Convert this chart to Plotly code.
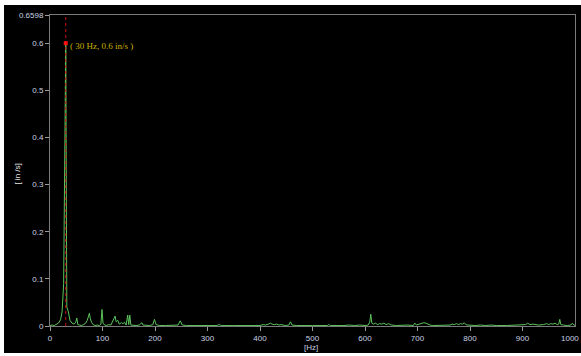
import plotly.graph_objects as go

# Spectrum samples (frequency in Hz, velocity amplitude in in/s)
freq_hz = [
    0, 4, 8, 12, 16, 20, 23, 26, 28, 30, 32, 35, 38, 42, 46, 49, 51, 53, 56, 60,
    64, 68, 71, 73, 75, 77, 79, 82, 86, 90, 94, 97, 99, 101, 104, 108, 112, 116, 119, 121,
    124, 126, 129, 132, 136, 139, 142, 145, 148, 150, 152, 154, 158, 164, 170, 173, 175, 177, 182, 190,
    196, 199, 202, 208, 220, 235, 244, 248, 252, 260, 280, 300, 318, 322, 326, 350, 380, 400, 406, 410,
    416, 420, 423, 427, 432, 436, 440, 448, 455, 458, 461, 470, 500, 520, 528, 531, 534, 560, 570, 580,
    590, 600, 606, 609, 611, 613, 616, 620, 624, 628, 632, 636, 640, 645, 650, 660, 680, 692, 695, 698,
    704, 708, 712, 716, 720, 724, 730, 750, 762, 766, 770, 774, 778, 782, 786, 789, 792, 796, 810, 820,
    830, 840, 850, 870, 884, 890, 896, 902, 906, 910, 914, 920, 930, 940, 946, 950, 954, 958, 962, 966,
    969, 971, 973, 978, 985, 992, 995, 998, 1000,
]
velocity = [
    0.001, 0.002, 0.001, 0.003, 0.006, 0.013, 0.030, 0.090, 0.360, 0.600, 0.040, 0.030, 0.012, 0.006, 0.004, 0.008, 0.017, 0.003, 0.002, 0.001,
    0.003, 0.006, 0.012, 0.022, 0.027, 0.015, 0.008, 0.003, 0.001, 0.002, 0.001, 0.004, 0.035, 0.006, 0.002, 0.001, 0.003, 0.002, 0.008, 0.014,
    0.021, 0.009, 0.012, 0.004, 0.007, 0.005, 0.008, 0.002, 0.023, 0.003, 0.023, 0.002, 0.001, 0.001, 0.002, 0.004, 0.007, 0.002, 0.001, 0.001,
    0.003, 0.014, 0.003, 0.001, 0.001, 0.002, 0.002, 0.011, 0.002, 0.001, 0.001, 0.001, 0.001, 0.003, 0.001, 0.001, 0.001, 0.001, 0.003, 0.002,
    0.004, 0.006, 0.004, 0.003, 0.004, 0.002, 0.003, 0.001, 0.002, 0.009, 0.002, 0.001, 0.001, 0.001, 0.001, 0.003, 0.001, 0.001, 0.002, 0.001,
    0.002, 0.001, 0.002, 0.008, 0.025, 0.006, 0.004, 0.006, 0.003, 0.005, 0.004, 0.006, 0.003, 0.005, 0.002, 0.001, 0.002, 0.001, 0.006, 0.002,
    0.004, 0.005, 0.007, 0.006, 0.004, 0.002, 0.001, 0.001, 0.002, 0.004, 0.003, 0.005, 0.003, 0.005, 0.004, 0.007, 0.003, 0.002, 0.001, 0.002,
    0.001, 0.002, 0.001, 0.001, 0.002, 0.003, 0.002, 0.004, 0.003, 0.006, 0.003, 0.004, 0.002, 0.003, 0.005, 0.003, 0.005, 0.004, 0.006, 0.003,
    0.004, 0.014, 0.003, 0.002, 0.001, 0.002, 0.006, 0.002, 0.001,
]

# Cursor reading
cursor_hz = 30
cursor_val = 0.6
y_top = 0.6598

x_ticks = [0, 100, 200, 300, 400, 500, 600, 700, 800, 900]
x_last_tick = 1000
y_ticks = [0, 0.1, 0.2, 0.3, 0.4, 0.5, 0.6, 0.6598]
y_tick_text = ["0", "0.1", "0.2", "0.3", "0.4", "0.5", "0.6", "0.6598"]

tick_font = dict(family="Liberation Sans", size=8, color="#c9d2e3")

fig = go.Figure()

fig.add_trace(go.Scatter(
    x=freq_hz, y=velocity, mode="lines",
    line=dict(color="#5cc35c", width=1),
    hoverinfo="skip", showlegend=False,
))

# Cursor: dotted red line and marker
fig.add_trace(go.Scatter(
    x=[cursor_hz, cursor_hz], y=[0, y_top], mode="lines",
    line=dict(color="#d01010", width=1, dash="dot"),
    hoverinfo="skip", showlegend=False,
))
fig.add_trace(go.Scatter(
    x=[cursor_hz], y=[cursor_val], mode="markers",
    marker=dict(color="#ff1010", size=4, symbol="square"),
    hoverinfo="skip", showlegend=False,
))

fig.add_annotation(
    x=cursor_hz, y=cursor_val, xref="x", yref="y",
    text=f"( {cursor_hz} Hz, {cursor_val} in/s )",
    showarrow=False, xanchor="left", yanchor="middle", xshift=2, yshift=-3,
    font=dict(family="Liberation Serif", size=9, color="#c9b000"),
)

# Last x tick label, kept inside the right edge
fig.add_annotation(
    x=x_last_tick, y=0, xref="x", yref="y", text=str(x_last_tick),
    showarrow=False, xanchor="right", yanchor="top", yshift=-6, xshift=6,
    font=tick_font,
)

# Axis titles
fig.add_annotation(
    x=-0.061, y=0.49, xref="paper", yref="paper", text="[ in /s]",
    showarrow=False, textangle=-90, xanchor="center", yanchor="middle",
    font=dict(family="Liberation Sans", size=8, color="#e8e8e8"),
)
fig.add_annotation(
    x=0.498, y=-0.07, xref="paper", yref="paper", text="[Hz]",
    showarrow=False, xanchor="center", yanchor="middle",
    font=dict(family="Liberation Sans", size=8, color="#c9d2e3"),
)

# Black panel behind the plot
fig.add_shape(
    type="rect", xref="paper", yref="paper",
    x0=-0.0876, x1=1.02, y0=-0.087, y1=1.032,
    fillcolor="black", line=dict(width=0), layer="below",
)

axis_common = dict(
    showgrid=False, zeroline=False, showline=True, linecolor="#7a7a7a",
    linewidth=1, mirror=True, ticks="outside", ticklen=4, tickcolor="#9a9a9a",
    tickfont=tick_font,
)

fig.update_xaxes(range=[0, 1000], tickvals=x_ticks, **axis_common)
fig.update_yaxes(range=[0, y_top], tickvals=y_ticks, ticktext=y_tick_text, **axis_common)

fig.update_layout(
    width=581, height=356,
    margin=dict(l=50, r=6, t=15, b=30),
    paper_bgcolor="white", plot_bgcolor="black",
)

fig.write_html("out.html")
